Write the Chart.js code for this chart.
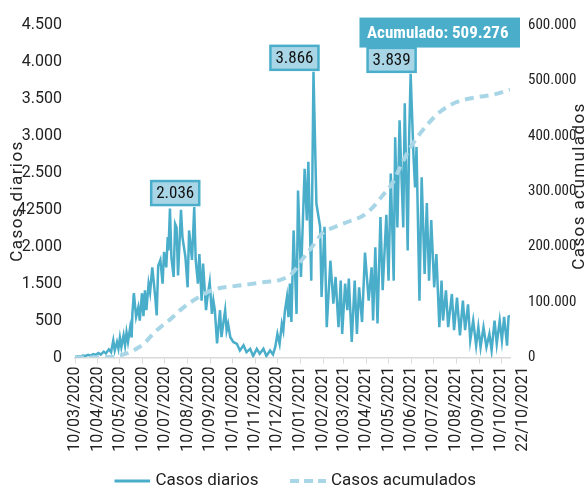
<!DOCTYPE html>
<html lang="es">
<head>
<meta charset="utf-8">
<title>Casos diarios y acumulados</title>
<script src="https://cdn.jsdelivr.net/npm/chart.js@4.4.1/dist/chart.umd.min.js"></script>
<style>
  html, body { margin: 0; padding: 0; background: #fff; }
  #wrap { width: 585px; height: 491px; position: relative; }
</style>
</head>
<body>
<div id="wrap"><canvas id="chart"></canvas></div>
<script>
// fechas del eje X (una por mes) y la fecha de corte
const fechasEje = [
  '10/03/2020', '10/04/2020', '10/05/2020', '10/06/2020', '10/07/2020',
  '10/08/2020', '10/09/2020', '10/10/2020', '10/11/2020', '10/12/2020',
  '10/01/2021', '10/02/2021', '10/03/2021', '10/04/2021', '10/05/2021',
  '10/06/2021', '10/07/2021', '10/08/2021', '10/09/2021', '10/10/2021'
]
const fechaCorte = '22/10/2021'

const etiquetasIzq = ['0', '500', '1.500', '2.000', '42500', '2.500', '3.000', '3.500', '4.000', '4.500']
const etiquetasDer = ['0', '100.000', '200.000', '300.000', '400.000', '500.000', '600.000']

// dias contados desde el 10/03/2020
const diasDiarios = [
  0, 4, 7, 11, 14, 18, 21, 25, 28, 32, 35, 39, 42, 46, 49, 52, 54, 57, 59, 61,
  63, 66, 68, 70, 72, 75, 77, 78, 80, 83, 86, 88, 91, 93, 95, 97, 100, 102, 105, 109,
  111, 113, 116, 119, 121, 124, 126, 127, 129, 131, 134, 136, 138, 140, 144, 146, 150, 153, 155, 159,
  162, 164, 167, 169, 172, 174, 178, 180, 183, 186, 188, 190, 193, 197, 199, 202, 204, 206, 208, 211,
  215, 220, 224, 229, 233, 238, 242, 247, 251, 256, 260, 265, 269, 272, 275, 278, 281, 283, 285, 288,
  290, 292, 294, 297, 301, 303, 307, 312, 315, 317, 321, 324, 328, 333, 335, 339, 342, 347, 351, 354,
  358, 361, 363, 367, 370, 372, 376, 380, 383, 386, 390, 394, 399, 403, 405, 408, 411, 415, 418, 423,
  426, 429, 433, 435, 438, 441, 446, 448, 452, 454, 456, 460, 462, 464, 468, 471, 475, 478, 481, 484,
  488, 491, 495, 498, 500, 504, 507, 512, 515, 519, 523, 527, 530, 534, 537, 541, 545, 548, 551, 555,
  559, 563, 566, 570, 573, 577, 580, 583, 587, 589, 591
]
const casosDiarios = [
  5, 15, 10, 25, 20, 35, 25, 45, 35, 60, 40, 80, 55, 110, 70, 230, 95, 210, 120, 270,
  140, 300, 165, 340, 210, 410, 270, 600, 870, 550, 680, 500, 870, 560, 910, 640, 1000, 880, 1220, 820,
  570, 1240, 1320, 1000, 1430, 1220, 1630, 1450, 2015, 1350, 1090, 1810, 1760, 1110, 2000, 1630, 1360, 950, 1720, 1320,
  2036, 1320, 1000, 1400, 770, 1270, 640, 820, 1020, 590, 770, 640, 190, 640, 275, 500, 640, 365, 455, 275,
  210, 185, 95, 165, 72, 117, 20, 117, 50, 117, 20, 95, 40, 140, 320, 185, 455, 365, 615, 820,
  545, 1000, 480, 1720, 590, 2260, 1090, 2555, 1855, 2650, 1040, 3866, 2080, 1770, 820, 1770, 410, 1310, 730, 1090,
  410, 1040, 320, 1000, 640, 1070, 210, 1040, 320, 950, 480, 1420, 770, 1220, 500, 1490, 460, 1900, 910, 1930,
  1040, 2490, 1040, 2980, 1760, 3210, 1760, 3440, 1450, 2980, 3839, 2700, 2300, 2850, 770, 2440, 1130, 2090, 1040, 1860,
  950, 1400, 410, 1040, 500, 910, 410, 860, 370, 810, 300, 770, 370, 720, 230, 500, 160, 410, 140, 410,
  140, 320, 95, 500, 185, 500, 230, 550, 160, 550, 570
]

const diasAcumulados = [
  0, 38, 52, 61, 75, 84, 95, 106, 118, 129, 143, 156, 170, 183, 197, 213, 235, 258, 281, 295,
  308, 322, 336, 353, 371, 390, 405, 418, 431, 442, 455, 469, 482, 496, 510, 523, 546, 568, 591
]
const casosAcumulados = [
  0, 500, 1500, 4000, 10000, 17000, 28000, 45000, 60000, 72000, 90000, 104000, 116000, 126000, 132000, 135000, 139000, 143500, 148500, 160000,
  185000, 210000, 236000, 248000, 258000, 268500, 286000, 308000, 331000, 362500, 397500, 426000, 448000, 467000, 480000, 487700, 494700, 499500, 509276
]

// picos que llevan recuadro con su valor
const diasPicos = [162, 324, 456]

const AZUL = '#4aaecb'
const AZUL_CLARO = '#a9d6e6'
const TEXTO = '#222'
const NARROW = '"Liberation Sans Narrow", "Roboto Condensed", Roboto, sans-serif'

const inicio = Date.UTC(2020, 2, 10)
function diaDe(fecha) {
  const [d, m, a] = fecha.split('/').map(Number)
  return Math.round((Date.UTC(a, m - 1, d) - inicio) / 864e5)
}

function miles(n) {
  return String(n).replace(/\B(?=(\d{3})+(?!\d))/g, '.')
}

// muestra de linea para la leyenda; el hueco a la izquierda separa los elementos
function muestraLinea(color, ancho, guiones) {
  const c = document.createElement('canvas')
  c.width = 57
  c.height = 6
  const g = c.getContext('2d')
  g.strokeStyle = color
  g.lineWidth = ancho
  g.setLineDash(guiones)
  g.beginPath()
  g.moveTo(21, 3)
  g.lineTo(57, 3)
  g.stroke()
  return c
}

const anotaciones = {
  id: 'anotaciones',

  afterDatasetsDraw(chart) {
    const { ctx, scales: { x, y, y2 } } = chart
    ctx.save()
    ctx.textAlign = 'center'
    ctx.textBaseline = 'middle'

    // recuadros de los picos
    ctx.font = '17px ' + NARROW
    diasPicos.forEach(dia => {
      const valor = casosDiarios[diasDiarios.indexOf(dia)]
      const px = x.getPixelForValue(dia)
      const py = y.getPixelForValue(valor)
      const texto = miles(valor)
      const w = ctx.measureText(texto).width + 10
      const h = 24
      const der = px + 5
      const abajo = py - 2
      ctx.fillStyle = AZUL_CLARO
      ctx.fillRect(der - w, abajo - h, w, h)
      ctx.strokeStyle = AZUL
      ctx.lineWidth = 2.5
      ctx.strokeRect(der - w, abajo - h, w, h)
      ctx.fillStyle = '#111'
      ctx.fillText(texto, der - w / 2, abajo - h / 2 + 1)
    })

    // total acumulado al final de la serie
    const ult = casosAcumulados.length - 1
    const ax = x.getPixelForValue(diasAcumulados[ult])
    const ay = y2.getPixelForValue(casosAcumulados[ult])
    const textoAcum = 'Acumulado: ' + miles(casosAcumulados[ult])
    ctx.font = 'bold 17px ' + NARROW
    const w = ctx.measureText(textoAcum).width + 19
    const h = 30
    const der = ax + 10
    const abajo = ay - 42
    ctx.fillStyle = AZUL
    ctx.fillRect(der - w, abajo - h, w, h)
    ctx.fillStyle = '#fff'
    ctx.fillText(textoAcum, der - w / 2 - 2, abajo - h / 2 + 1)
    ctx.restore()
  },

  afterDraw(chart) {
    const { ctx, chartArea, scales: { x } } = chart
    ctx.save()
    ctx.fillStyle = TEXTO

    // titulos de los ejes, ambos de abajo hacia arriba
    ctx.font = '17px Roboto'
    ctx.letterSpacing = '1.4px'
    ctx.textAlign = 'center'
    ctx.textBaseline = 'middle'
    ctx.translate(17.5, 201)
    ctx.rotate(-Math.PI / 2)
    ctx.fillText('Casos diarios', 0, 0)
    ctx.setTransform(1, 0, 0, 1, 0, 0)
    ctx.translate(579.5, 186)
    ctx.rotate(-Math.PI / 2)
    ctx.fillText('Casos acumulados', 0, 0)
    ctx.setTransform(1, 0, 0, 1, 0, 0)

    // fecha de corte, debajo de las etiquetas del eje derecho
    ctx.letterSpacing = '0px'
    ctx.font = '16px Roboto'
    ctx.textAlign = 'right'
    ctx.translate(x.getPixelForValue(diaDe(fechaCorte)) + 13, chartArea.bottom + 9)
    ctx.rotate(-Math.PI / 2)
    ctx.fillText(fechaCorte, 0, 0)
    ctx.restore()
  }
}

new Chart(document.getElementById('chart'), {
  type: 'line',
  data: {
    datasets: [
      {
        label: 'Casos diarios',
        data: diasDiarios.map((d, i) => ({ x: d, y: casosDiarios[i] })),
        yAxisID: 'y',
        borderColor: AZUL,
        borderWidth: 2.5,
        pointRadius: 0,
        tension: 0,
        order: 1
      },
      {
        label: 'Casos acumulados',
        data: diasAcumulados.map((d, i) => ({ x: d, y: casosAcumulados[i] })),
        yAxisID: 'y2',
        borderColor: AZUL_CLARO,
        borderWidth: 4,
        borderDash: [9, 6],
        pointRadius: 0,
        cubicInterpolationMode: 'monotone',
        order: 0
      }
    ]
  },
  options: {
    responsive: true,
    maintainAspectRatio: false,
    animation: false,
    layout: { padding: { top: 25, left: -12, right: 0, bottom: -8.5 } },
    plugins: {
      tooltip: { enabled: false },
      legend: {
        position: 'bottom',
        labels: {
          usePointStyle: true,
          pointStyleWidth: 50,
          boxHeight: 17,
          padding: 14,
          color: TEXTO,
          font: { family: 'Roboto', size: 17 },
          generateLabels: () => [
            { text: 'Casos diarios', pointStyle: muestraLinea(AZUL, 3, []), fontColor: TEXTO, lineWidth: 0, hidden: false, datasetIndex: 0 },
            { text: 'Casos acumulados', pointStyle: muestraLinea(AZUL_CLARO, 4, [9, 5]), fontColor: TEXTO, lineWidth: 0, hidden: false, datasetIndex: 1 }
          ]
        }
      }
    },
    scales: {
      x: {
        type: 'linear',
        min: 0,
        max: diaDe(fechaCorte),
        afterBuildTicks: s => { s.ticks = fechasEje.map(f => ({ value: diaDe(f) })) },
        afterFit: s => { s.height = 101 },
        ticks: {
          autoSkip: false,
          minRotation: 90,
          maxRotation: 90,
          padding: 3,
          color: TEXTO,
          font: { family: 'Roboto', size: 16 },
          callback: (v, i) => fechasEje[i]
        },
        grid: { drawOnChartArea: false, tickLength: 6, color: '#d9d9d9' },
        border: { color: '#d9d9d9', width: 1.5 }
      },
      y: {
        position: 'left',
        min: 0,
        max: 4500,
        afterFit: s => { s.width = 87 },
        ticks: {
          stepSize: 500,
          padding: 5,
          color: TEXTO,
          font: { family: 'Roboto', size: 16 },
          callback: (v, i) => etiquetasIzq[i]
        },
        grid: { display: false },
        border: { display: false }
      },
      y2: {
        position: 'right',
        min: 0,
        max: 632000,
        afterFit: s => { s.width = 75 },
        ticks: {
          stepSize: 100000,
          includeBounds: false,
          padding: 10,
          color: TEXTO,
          font: { family: NARROW, size: 15 },
          callback: (v, i) => etiquetasDer[i]
        },
        grid: { display: false },
        border: { display: false }
      }
    }
  },
  plugins: [anotaciones]
})
</script>
</body>
</html>
